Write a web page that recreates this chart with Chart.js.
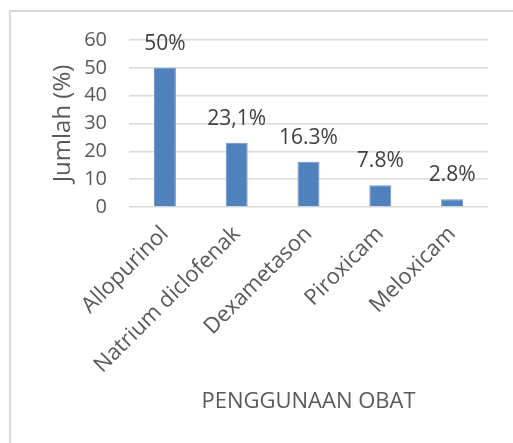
<!DOCTYPE html>
<html>
<head>
<meta charset="utf-8">
<script src="https://cdn.jsdelivr.net/npm/chart.js@4"></script>
<style>
  html, body { margin: 0; padding: 0; background: #ffffff; }
  #wrap { width: 513px; height: 443px; position: relative; }
</style>
</head>
<body>
<div id="wrap"><canvas id="c" width="513" height="443"></canvas></div>
<script>
const categories = ['Allopurinol', 'Natrium diclofenak', 'Dexametason', 'Piroxicam', 'Meloxicam'];
const values = [50, 23.1, 16.3, 7.8, 2.8];
const valueLabels = ['50%', '23,1%', '16.3%', '7.8%', '2.8%'];
const yTicks = [0, 10, 20, 30, 40, 50, 60];

const FONT = "'Open Sans', 'DejaVu Sans', sans-serif";

const framePlugin = {
  id: 'frame',
  beforeDraw(chart) {
    const ctx = chart.ctx;
    ctx.save();
    ctx.fillStyle = '#ffffff';
    ctx.fillRect(0, 0, chart.width, chart.height);
    ctx.strokeStyle = '#d9d9d9';
    ctx.lineWidth = 2;
    ctx.strokeRect(10, 11, 540, 480);
    ctx.restore();
  }
};

const valueLabelPlugin = {
  id: 'valueLabels',
  afterDatasetsDraw(chart) {
    const ctx = chart.ctx;
    const meta = chart.getDatasetMeta(0);
    ctx.save();
    ctx.font = '21px ' + FONT;
    ctx.fillStyle = '#404040';
    ctx.textAlign = 'center';
    ctx.textBaseline = 'alphabetic';
    meta.data.forEach((bar, i) => {
      ctx.fillText(valueLabels[i], bar.x, bar.y - 18);
    });
    ctx.restore();
  }
};

new Chart(document.getElementById('c'), {
  type: 'bar',
  data: {
    labels: categories,
    datasets: [{
      data: values,
      backgroundColor: '#4f81bd',
      borderColor: '#6a94c8',
      borderWidth: 1,
      categoryPercentage: 1,
      barPercentage: 0.306
    }]
  },
  options: {
    responsive: false,
    animation: false,
    events: [],
    layout: { padding: { left: 0, right: 25, top: 40, bottom: 0 } },
    plugins: { legend: { display: false }, tooltip: { enabled: false } },
    scales: {
      x: {
        grid: { display: false },
        border: { display: false },
        ticks: {
          color: '#595959',
          font: { family: FONT, size: 22, lineHeight: 1.6 },
          minRotation: 45,
          maxRotation: 45,
          autoSkip: false,
          padding: 3
        },
        title: {
          display: true,
          text: 'PENGGUNAAN OBAT',
          color: '#595959',
          font: { family: FONT, size: 22 },
          padding: { top: 0, bottom: 28 }
        },
        afterFit(s) { s.height = 236; }
      },
      y: {
        min: 0,
        max: 60,
        afterBuildTicks(s) { s.ticks = yTicks.map(v => ({ value: v })); },
        grid: { color: '#d9d9d9', lineWidth: 1.5, drawTicks: false },
        border: { display: false },
        ticks: {
          color: '#595959',
          font: { family: FONT, size: 20 },
          padding: 22
        },
        title: {
          display: true,
          text: 'Jumlah (%)',
          color: '#595959',
          font: { family: FONT, size: 24 },
          padding: { top: 49, bottom: 0 }
        },
        afterFit(s) { s.width = 129; }
      }
    }
  },
  plugins: [framePlugin, valueLabelPlugin]
});
</script>
</body>
</html>
